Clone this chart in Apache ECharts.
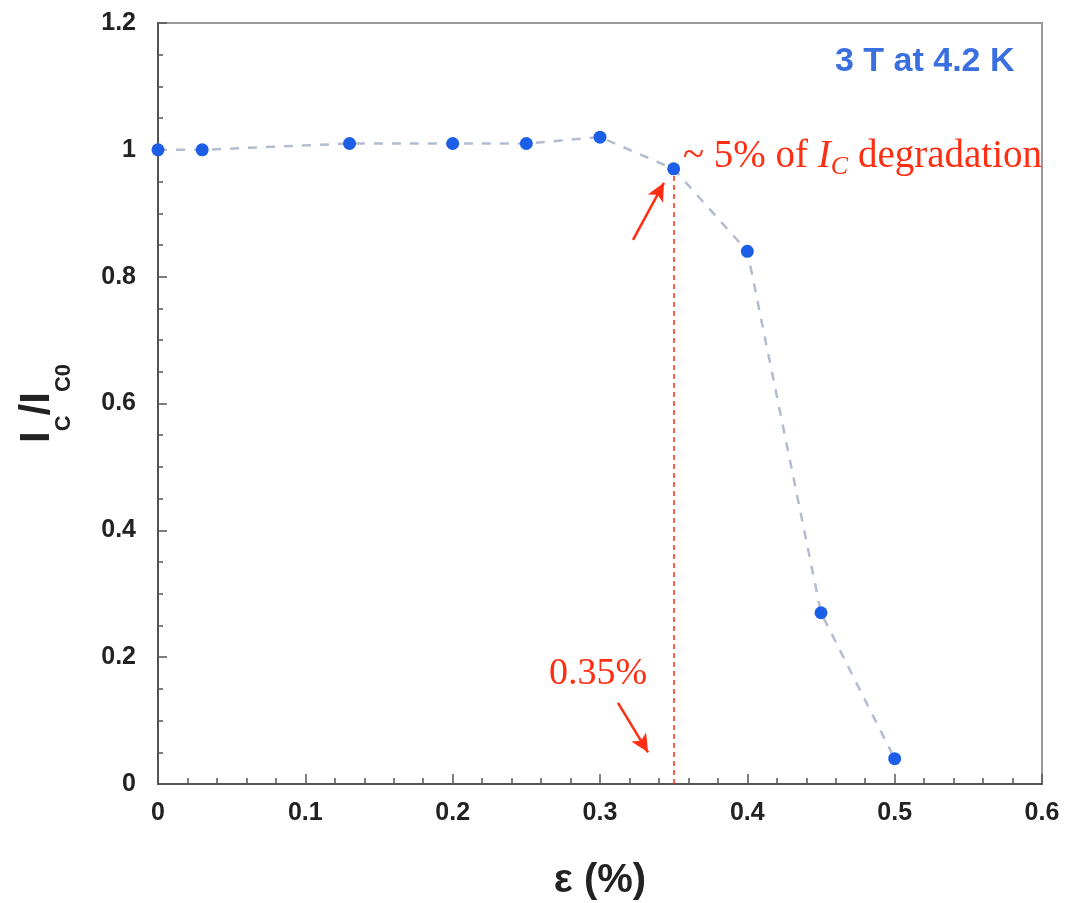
<!DOCTYPE html>
<html>
<head>
<meta charset="utf-8">
<script src="https://cdn.jsdelivr.net/npm/echarts@6/dist/echarts.min.js"></script>
<style>
  html, body { margin: 0; padding: 0; background: #fff; }
  #chart { width: 1067px; height: 903px; }
</style>
</head>
<body>
<div id="chart"></div>
<script>
// strain (%) and normalised critical current
const strain = [0, 0.03, 0.13, 0.2, 0.25, 0.3, 0.35, 0.4, 0.45, 0.5];
const icRatio = [1.0, 1.0, 1.01, 1.01, 1.01, 1.02, 0.97, 0.84, 0.27, 0.04];

// annotation anchors, in data units
const onsetStrain = 0.35;
const onsetValue = 0.96;
const arrowTop = [[0.3224, 0.858], [0.3434, 0.948]];
const arrowBottom = [[0.3122, 0.128], [0.3326, 0.05]];

const red = '#ff2d12';

const chart = echarts.init(document.getElementById('chart'));

const option = {
  backgroundColor: '#fff',
  animation: false,
  grid: {
    left: 158, right: 25, top: 23, bottom: 119,
    outerBoundsMode: 'none',
    show: true,
    borderColor: '#9a9a9a',
    borderWidth: 2
  },
  xAxis: {
    type: 'value',
    min: 0, max: 0.6, interval: 0.1,
    name: 'ε (%)',
    nameLocation: 'middle',
    nameGap: 77,
    nameTextStyle: { fontFamily: 'Arial, Liberation Sans', fontWeight: 'bold', fontSize: 40, color: '#222' },
    axisLine: { lineStyle: { color: '#555', width: 2 } },
    axisTick: { inside: true, length: 10, lineStyle: { color: '#555', width: 1.5 } },
    minorTick: { show: true, splitNumber: 5, length: 6, lineStyle: { color: '#555', width: 1.5 } },
    splitLine: { show: false },
    axisLabel: { margin: 17, fontFamily: 'Arial, Liberation Sans', fontWeight: 'bold', fontSize: 25, color: '#222' }
  },
  yAxis: {
    type: 'value',
    min: 0, max: 1.2, interval: 0.2,
    name: '{b|I}{s|C}{b|/I}{s|C0}',
    nameLocation: 'middle',
    nameRotate: 90,
    nameGap: 83,
    nameTextStyle: {
      rich: {
        b: { fontFamily: 'Arial, Liberation Sans', fontWeight: 'bold', fontSize: 42, color: '#222', lineHeight: 44 },
        s: { fontFamily: 'Arial, Liberation Sans', fontWeight: 'bold', fontSize: 22, color: '#222', padding: [54, 0, 0, 0] }
      }
    },
    axisLine: { lineStyle: { color: '#555', width: 2 } },
    axisTick: { inside: true, length: 9, lineStyle: { color: '#555', width: 1.5 } },
    minorTick: { show: true, splitNumber: 4, length: 5, lineStyle: { color: '#555', width: 1.5 } },
    splitLine: { show: false },
    axisLabel: { margin: 22, fontFamily: 'Arial, Liberation Sans', fontWeight: 'bold', fontSize: 25, color: '#222' }
  },
  series: [
    {
      type: 'line',
      data: strain.map((x, i) => [x, icRatio[i]]),
      symbol: 'circle',
      symbolSize: 13,
      itemStyle: { color: '#1c5fe6' },
      lineStyle: { color: '#b4bccf', width: 2.5, type: [9, 9] },
      z: 5,
      markLine: {
        silent: true,
        label: { show: false },
        z: 3,
        data: [
          [
            { coord: [onsetStrain, 0], symbol: 'none', lineStyle: { color: red, width: 1.5, type: [5, 4] } },
            { coord: [onsetStrain, onsetValue], symbol: 'none' }
          ],
          [
            { coord: arrowTop[0], symbol: 'none', lineStyle: { color: red, width: 2.5, type: 'solid' } },
            { coord: arrowTop[1], symbol: 'arrow', symbolSize: [13, 18] }
          ],
          [
            { coord: arrowBottom[0], symbol: 'none', lineStyle: { color: red, width: 2.5, type: 'solid' } },
            { coord: arrowBottom[1], symbol: 'arrow', symbolSize: [13, 18] }
          ]
        ]
      }
    }
  ],
  graphic: [
    {
      type: 'text',
      left: 835, top: 45,
      style: {
        text: '3 T at 4.2 K',
        fontFamily: 'Arial, Liberation Sans',
        fontWeight: 'bold',
        fontSize: 34,
        fill: '#3a6fe0'
      }
    },
    {
      type: 'text',
      left: 683, top: 137,
      style: {
        text: '{r|~ 5% of }{i|I}{c|C}{r| degradation}',
        rich: {
          r: { fontFamily: 'Liberation Serif, serif', fontSize: 39, fill: red },
          i: { fontFamily: 'Liberation Serif, serif', fontStyle: 'italic', fontSize: 39, fill: red },
          c: { fontFamily: 'Liberation Serif, serif', fontStyle: 'italic', fontSize: 26, fill: red, padding: [22, 0, 0, 0] }
        }
      }
    },
    {
      type: 'text',
      left: 549, top: 655,
      style: {
        text: '0.35%',
        fontFamily: 'Liberation Serif, serif',
        fontSize: 38,
        fill: red
      }
    }
  ]
};

chart.setOption(option);
</script>
</body>
</html>
